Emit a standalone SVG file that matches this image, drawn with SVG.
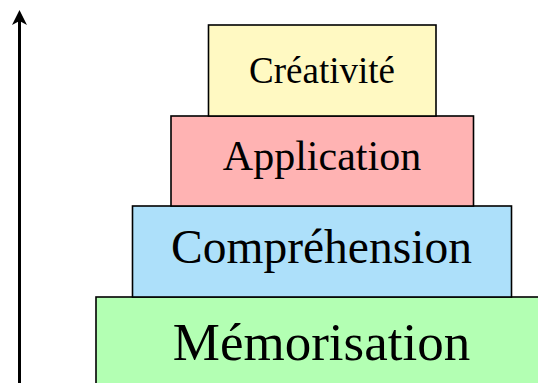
<svg xmlns="http://www.w3.org/2000/svg" width="538" height="383" viewBox="0 0 538 383">
<style>
.box{stroke:#000;stroke-width:1.6}
.lbl{font-family:"Liberation Serif","Times New Roman",serif;text-anchor:middle;fill:#000}
</style>
<rect width="538" height="383" fill="#fff"/>
<g id="connectors">
<line x1="19.5" y1="383" x2="19.5" y2="20" stroke="#000" stroke-width="3"/>
<path d="M19.5 10 L27 25 L19.5 21 L12 25 Z" fill="#000"/>
</g>
<g id="memorisation">
<rect class="box" x="96" y="297" width="460" height="100" fill="#b3ffb3"/>
<text class="lbl" x="321.5" y="360" font-size="53">Mémorisation</text>
</g>
<g id="comprehension">
<rect class="box" x="132.5" y="206" width="379" height="91" fill="#ade0fa"/>
<text class="lbl" x="321.5" y="263" font-size="47.5">Compréhension</text>
</g>
<g id="application">
<rect class="box" x="171" y="116" width="302.5" height="90" fill="#ffb3b3"/>
<text class="lbl" x="322" y="170" font-size="42">Application</text>
</g>
<g id="creativite">
<rect class="box" x="208.5" y="25" width="227.5" height="91" fill="#fff9c2"/>
<text class="lbl" x="322" y="82.5" font-size="37">Créativité</text>
</g>
</svg>
